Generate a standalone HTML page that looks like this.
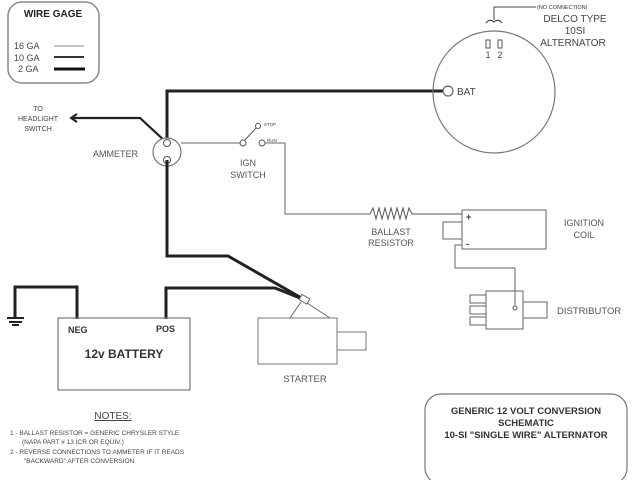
<!DOCTYPE html>
<html><head><style>
body{margin:0;background:#fff}
svg{display:block;font-family:"Liberation Sans",Arial,sans-serif}
</style></head><body>
<svg width="640" height="480" viewBox="0 0 640 480" xmlns="http://www.w3.org/2000/svg">
<rect width="640" height="480" fill="#fff"/>
<!-- wire gage box -->
<rect x="8" y="2" width="91" height="81" rx="14" fill="none" stroke="#888" stroke-width="1.5"/>
<text x="53" y="17" font-size="10" font-weight="bold" text-anchor="middle" fill="#222">WIRE GAGE</text>
<text x="14" y="49" font-size="9" fill="#444">16 GA</text>
<text x="14" y="61" font-size="9" fill="#444">10 GA</text>
<text x="18" y="72" font-size="9" fill="#444">2 GA</text>
<line x1="54" y1="46" x2="84" y2="46" stroke="#888" stroke-width="1"/>
<line x1="54" y1="57" x2="84" y2="57" stroke="#333" stroke-width="2"/>
<line x1="54" y1="69" x2="85" y2="69" stroke="#111" stroke-width="3"/>

<!-- main thick wire to alternator -->
<polyline points="167,143 167,91 444,91" fill="none" stroke="#222" stroke-width="3"/>
<!-- alternator -->
<circle cx="494" cy="92" r="61" fill="none" stroke="#777" stroke-width="1.2"/>
<circle cx="448" cy="91" r="5" fill="#fff" stroke="#666" stroke-width="1.2"/>
<text x="457" y="95" font-size="10" fill="#444">BAT</text>
<rect x="486" y="40" width="4" height="8" fill="none" stroke="#555"/>
<rect x="498" y="40" width="4" height="8" fill="none" stroke="#555"/>
<text x="488" y="58" font-size="9" text-anchor="middle" fill="#444">1</text>
<text x="500" y="58" font-size="9" text-anchor="middle" fill="#444">2</text>
<path d="M486,23 Q490,18 494,22 Q498,18 502,23" fill="none" stroke="#333"/>
<polyline points="494,20 494,7 536,7" fill="none" stroke="#444" stroke-width="1"/>
<text x="537" y="9" font-size="5.5" fill="#333">(NO CONNECTION)</text>
<text x="575" y="22" font-size="10" text-anchor="middle" fill="#444">DELCO TYPE</text>
<text x="575" y="34" font-size="10" text-anchor="middle" fill="#444">10SI</text>
<text x="573" y="46" font-size="10" text-anchor="middle" fill="#444">ALTERNATOR</text>

<!-- headlight -->
<polyline points="167,143 140,118 72,118" fill="none" stroke="#222" stroke-width="2.2"/>
<polyline points="77,114 71,118 77,122" fill="none" stroke="#222" stroke-width="2"/>
<text x="38" y="111" font-size="7" text-anchor="middle" fill="#444">TO</text>
<text x="38" y="121" font-size="7" text-anchor="middle" fill="#444">HEADLIGHT</text>
<text x="38" y="131" font-size="7" text-anchor="middle" fill="#444">SWITCH</text>
<!-- ammeter -->
<circle cx="167" cy="152" r="14" fill="#fff" stroke="#777" stroke-width="1.2"/>
<circle cx="167" cy="143" r="3.5" fill="#fff" stroke="#555"/>
<circle cx="167" cy="160" r="3.5" fill="#fff" stroke="#555"/>
<text x="93" y="157" font-size="9" fill="#555">AMMETER</text>
<!-- ign switch -->
<line x1="181" y1="143" x2="240" y2="143" stroke="#666"/>
<circle cx="243" cy="143" r="3" fill="#fff" stroke="#555"/>
<line x1="245" y1="140" x2="256" y2="128" stroke="#555"/>
<circle cx="258" cy="126" r="2.5" fill="#fff" stroke="#555"/>
<text x="264" y="126" font-size="4.5" fill="#444">STOP</text>
<circle cx="262" cy="143" r="3" fill="#fff" stroke="#555"/>
<text x="267" y="142" font-size="4.5" fill="#444">RUN</text>
<text x="248" y="166" font-size="9" text-anchor="middle" fill="#555">IGN</text>
<text x="248" y="178" font-size="9" text-anchor="middle" fill="#555">SWITCH</text>
<polyline points="265,143 285,143 285,214 370,214" fill="none" stroke="#666"/>
<polyline points="370,214 373,208 376,219 379,208 382,219 385,208 388,219 391,208 394,219 397,208 400,219 403,208 406,219 409,208 412,214 462,214" fill="none" stroke="#555"/>
<text x="391" y="235" font-size="9" text-anchor="middle" fill="#555">BALLAST</text>
<text x="391" y="246" font-size="9" text-anchor="middle" fill="#555">RESISTOR</text>
<!-- coil -->
<rect x="462" y="210" width="84" height="39" fill="#fff" stroke="#666"/>
<rect x="443" y="222" width="19" height="17" fill="#fff" stroke="#666"/>
<text x="466" y="220" font-size="9" font-weight="bold" fill="#333">+</text>
<text x="466" y="247" font-size="9" font-weight="bold" fill="#333">-</text>
<text x="584" y="226" font-size="9" text-anchor="middle" fill="#555">IGNITION</text>
<text x="584" y="238" font-size="9" text-anchor="middle" fill="#555">COIL</text>
<polyline points="462,245 455,245 455,268 515,268 515,305" fill="none" stroke="#666"/>
<!-- distributor -->
<rect x="470" y="295" width="16" height="8" fill="#fff" stroke="#666"/>
<rect x="470" y="306" width="16" height="8" fill="#fff" stroke="#666"/>
<rect x="470" y="317" width="16" height="8" fill="#fff" stroke="#666"/>
<rect x="486" y="291" width="37" height="38" fill="#fff" stroke="#666"/>
<rect x="523" y="302" width="24" height="16" fill="#fff" stroke="#666"/>
<line x1="515" y1="268" x2="515" y2="305" stroke="#666"/>
<circle cx="515" cy="308" r="2" fill="#fff" stroke="#555"/>
<text x="557" y="314" font-size="9.5" fill="#555">DISTRIBUTOR</text>

<!-- battery wires -->
<polyline points="167,160 167,256 228,256 305,300" fill="none" stroke="#222" stroke-width="3"/>
<polyline points="166,319 166,288 275,288 305,300" fill="none" stroke="#222" stroke-width="3"/>
<polyline points="77,319 77,287 15,287 15,318" fill="none" stroke="#222" stroke-width="3"/>
<line x1="7" y1="318" x2="24" y2="318" stroke="#222" stroke-width="2"/>
<line x1="9" y1="322" x2="22" y2="322" stroke="#222" stroke-width="2"/>
<line x1="12" y1="325" x2="19" y2="325" stroke="#222" stroke-width="2"/>
<rect x="58" y="318" width="132" height="72" fill="none" stroke="#777" stroke-width="1.2"/>
<text x="68" y="333" font-size="9" font-weight="bold" fill="#333">NEG</text>
<text x="156" y="332" font-size="9" font-weight="bold" fill="#333">POS</text>
<text x="124" y="358" font-size="12" font-weight="bold" text-anchor="middle" fill="#333">12v BATTERY</text>
<!-- starter -->
<line x1="290" y1="318" x2="301" y2="302" stroke="#666"/>
<line x1="330" y1="318" x2="307" y2="303" stroke="#666"/>
<rect x="300" y="296" width="9" height="6" transform="rotate(30 304 299)" fill="#fff" stroke="#666"/>
<rect x="258" y="318" width="79" height="46" fill="#fff" stroke="#777"/>
<rect x="337" y="332" width="29" height="18" fill="#fff" stroke="#777"/>
<text x="305" y="382" font-size="9.5" text-anchor="middle" fill="#555">STARTER</text>
<!-- notes -->
<text x="113" y="419" font-size="10" text-anchor="middle" fill="#444" text-decoration="underline">NOTES:</text>
<text x="10" y="435" font-size="6.5" fill="#444">1 - BALLAST RESISTOR = GENERIC CHRYSLER STYLE</text>
<text x="22" y="444" font-size="6.5" fill="#444">(NAPA PART # 13 ICR OR EQUIV.)</text>
<text x="10" y="454" font-size="6.5" fill="#444">2 - REVERSE CONNECTIONS TO AMMETER IF IT READS</text>
<text x="24" y="463" font-size="6.5" fill="#444">"BACKWARD" AFTER CONVERSION</text>
<!-- title box -->
<rect x="425" y="394" width="202" height="90" rx="16" fill="none" stroke="#777" stroke-width="1.2"/>
<text x="526" y="414" font-size="9.5" font-weight="bold" text-anchor="middle" fill="#333">GENERIC  12 VOLT CONVERSION</text>
<text x="526" y="426" font-size="9.5" font-weight="bold" text-anchor="middle" fill="#333">SCHEMATIC</text>
<text x="526" y="438" font-size="9.5" font-weight="bold" text-anchor="middle" fill="#333">10-SI "SINGLE WIRE" ALTERNATOR</text>
</svg>
</body></html>
